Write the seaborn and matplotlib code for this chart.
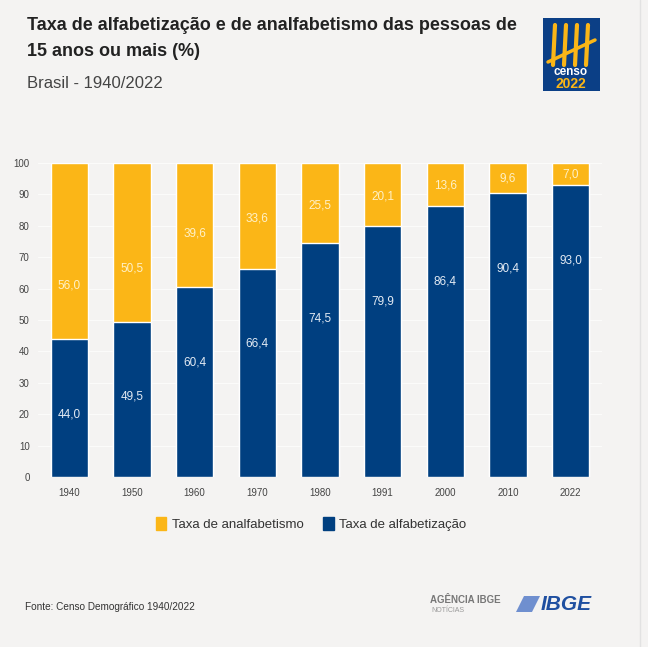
import numpy as np
import pandas as pd
import matplotlib
matplotlib.use('Agg')
import matplotlib.pyplot as plt
import seaborn as sns
from matplotlib.patches import Rectangle, Patch, Polygon

# Dados do gráfico (Censo Demográfico 1940/2022)
anos = ['1940', '1950', '1960', '1970', '1980', '1991', '2000', '2010', '2022']
alfabetizacao = [44.0, 49.5, 60.4, 66.4, 74.5, 79.9, 86.4, 90.4, 93.0]
analfabetismo = [56.0, 50.5, 39.6, 33.6, 25.5, 20.1, 13.6, 9.6, 7.0]

azul = '#003f80'
amarelo = '#fbb617'
fundo = '#f4f3f2'

sns.set_theme(style='white')
plt.rcParams['font.family'] = ['Liberation Sans', 'DejaVu Sans']

df = pd.DataFrame({'ano': anos, 'alf': alfabetizacao, 'analf': analfabetismo})
df['total'] = df['alf'] + df['analf']

fig = plt.figure(figsize=(6.48, 6.47), dpi=100, facecolor=fundo)
ax = fig.add_axes([38/648, 1 - 477/647, 564/648, 314/647])
ax.set_facecolor(fundo)

# barras empilhadas: total em amarelo e alfabetização por cima em azul
sns.barplot(data=df, x='ano', y='total', color=amarelo, width=0.6, saturation=1, ax=ax, zorder=2)
sns.barplot(data=df, x='ano', y='alf', color=azul, width=0.6, saturation=1, ax=ax, zorder=3)

ax.set_ylim(0, 100)
ax.set_xlim(-0.5, len(anos) - 0.5)
ax.set_yticks(range(0, 101, 10))
ax.yaxis.grid(True, color='#fbfbfa', linewidth=0.8, zorder=0)
ax.set_axisbelow(True)
for s in ax.spines.values():
    s.set_visible(False)
ax.tick_params(axis='both', length=0, labelsize=7, colors='#444444')
ax.tick_params(axis='y', pad=6)
ax.tick_params(axis='x', pad=8)
ax.set_xlabel('')
ax.set_ylabel('')

# rótulos dos valores
for i, row in df.iterrows():
    ax.text(i, row['alf'] - 24, f"{row['alf']:.1f}".replace('.', ','), ha='center', va='center',
            color='#e3eaf3', fontsize=8.5, zorder=4)
    y_am = row['alf'] + min(row['analf'] * 0.47, 17)
    ax.text(i, y_am, f"{row['analf']:.1f}".replace('.', ','), ha='center', va='center',
            color='#fff1c8', fontsize=8.5, zorder=4)

# legenda
handles = [Patch(color=amarelo, label='Taxa de analfabetismo'),
           Patch(color=azul, label='Taxa de alfabetização')]
fig.legend(handles=handles, loc='center', bbox_to_anchor=(311/648, 1 - 524/647), ncol=2,
           frameon=False, fontsize=9.5, handlelength=0.8, handleheight=1.1, handletextpad=0.4,
           columnspacing=1.5, labelcolor='#333333')

# títulos
fig.text(27/648, 1 - 25/647, 'Taxa de alfabetização e de analfabetismo das pessoas de',
         fontsize=13, fontweight='bold', color='#222222', va='center')
fig.text(27/648, 1 - 51/647, '15 anos ou mais (%)', fontsize=13, fontweight='bold',
         color='#222222', va='center')
fig.text(27/648, 1 - 83/647, 'Brasil - 1940/2022', fontsize=12, color='#444444', va='center')

# fonte
fig.text(25/648, 1 - 607/647, 'Fonte: Censo Demográfico 1940/2022', fontsize=7.2,
         color='#333333', va='center')

# logo censo 2022
fig.patches.append(Rectangle((543/648, 1 - 91/647), 57/648, 73/647, transform=fig.transFigure,
                             facecolor='#0b3f86', edgecolor='none'))
for k in range(4):
    x0 = (553 + k * 11) / 648
    fig.add_artist(plt.Line2D([x0, x0 + 2/648], [1 - 65/647, 1 - 25/647], color=amarelo,
                              linewidth=3, transform=fig.transFigure))
fig.add_artist(plt.Line2D([548/648, 595/648], [1 - 62/647, 1 - 40/647], color=amarelo,
                          linewidth=2.5, transform=fig.transFigure))
fig.text(571/648, 1 - 72/647, 'censo', fontsize=8.5, color='white', ha='center', va='center',
         fontweight='bold')
fig.text(571/648, 1 - 84/647, '2022', fontsize=10, color=amarelo, ha='center', va='center',
         fontweight='bold')

# logos IBGE
fig.text(465/648, 1 - 600/647, 'AGÊNCIA IBGE', fontsize=7, color='#777777', ha='center',
         va='center', fontweight='bold')
fig.text(448/648, 1 - 611/647, 'NOTÍCIAS', fontsize=5, color='#999999', ha='center', va='center')
fig.patches.append(Polygon([(516/648, 1 - 612/647), (524/648, 1 - 596/647),
                            (540/648, 1 - 596/647), (532/648, 1 - 612/647)],
                           closed=True, transform=fig.transFigure, facecolor='#6f8fcf',
                           edgecolor='none'))
fig.text(566/648, 1 - 604/647, 'IBGE', fontsize=15, color='#1f4fa0', ha='center', va='center',
         fontweight='bold', fontstyle='italic')

# linha lateral
fig.add_artist(plt.Line2D([640/648, 640/648], [0, 1], color='#e2e2e2', linewidth=1,
                          transform=fig.transFigure))

fig.savefig('out.png', dpi=100, facecolor=fundo)
